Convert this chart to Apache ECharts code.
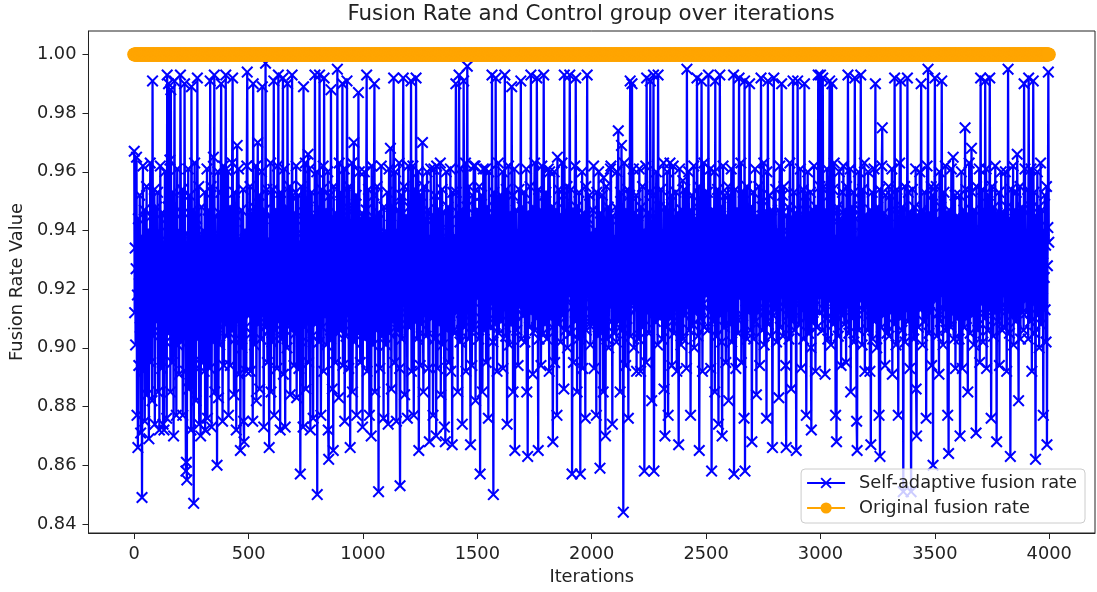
<!DOCTYPE html>
<html>
<head>
<meta charset="utf-8">
<script src="https://cdn.jsdelivr.net/npm/echarts@6/dist/echarts.min.js"></script>
<style>html,body{margin:0;padding:0;background:#fff}#c{width:1097px;height:592px}</style>
</head>
<body>
<div id="c"></div>
<script>
// Iteration spacing between the sampled points (iterations 0, 2, 4, ...)
const ITER_STEP = 2;
// Self-adaptive fusion rate, in thousandths (0.967 -> 967); one row = 100 iterations
const selfAdaptiveRate = [
967,912,934,901,927,965,877,918,866,944, 894,925,952,907,871,938,915,849,929,962, 892,921,947,875,910,936,903,955,884,924, 940,906,869,931,917,963,895,927,945,882, 991,914,937,904,954,874,922,939,909,948,
921,953,885,915,939,872,928,962,908,933, 893,946,919,874,936,872,911,960,926,902, 944,876,993,917,948,990,905,931,964,885, 988,920,938,895,913,953,870,929,991,907, 946,918,877,935,961,901,924,940,891,932,
914,993,937,902,926,954,877,919,946,907, 990,931,892,858,861,855,939,912,961,886, 928,952,905,921,872,989,936,915,947,894, 847,925,963,908,933,882,944,917,992,903, 929,955,874,922,938,870,911,948,895,927,
909,940,923,892,953,872,916,935,903,961, 876,927,947,910,932,893,991,921,955,873, 938,913,902,965,926,993,885,945,918,906, 936,860,929,960,883,915,946,901,925,953, 990,912,934,875,920,962,894,939,908,931,
993,926,904,944,917,960,877,932,911,948, 894,923,938,906,963,992,914,930,884,953, 919,903,936,872,945,969,909,928,961,891, 921,937,865,916,947,900,931,912,954,875, 868,925,940,907,934,892,962,994,918,929,
911,938,924,955,892,930,905,946,918,875, 990,927,948,901,934,913,962,882,921,939, 970,908,929,952,886,917,936,903,960,922, 989,911,944,873,926,947,907,997,932,915, 954,895,923,937,906,866,945,919,963,885,
936,902,927,954,913,991,877,940,921,906, 947,931,893,962,917,993,909,938,925,872, 953,903,934,919,945,992,891,928,961,910, 873,937,916,948,900,990,923,944,908,933, 955,884,920,939,906,993,914,952,927,894,
918,946,905,930,962,883,924,939,911,952, 893,928,936,857,915,955,902,933,920,873, 989,944,907,926,963,886,918,937,909,947, 966,895,929,961,913,872,935,921,953,904, 930,876,945,916,927,993,908,939,924,960,
850,931,914,948,902,993,926,940,877,919, 954,907,934,962,892,992,923,911,939,947, 901,928,917,960,872,862,935,912,952,903, 988,925,944,886,930,865,955,908,920,937, 895,946,916,927,995,905,938,883,963,921,
923,953,906,935,914,990,894,945,929,961, 875,919,938,904,926,991,948,911,933,893, 955,920,866,940,908,931,963,885,917,947, 970,902,928,939,912,952,877,923,936,905, 987,930,960,916,895,944,925,909,946,873,
912,938,927,960,903,931,919,947,993,892, 935,910,954,922,877,944,907,929,870,962, 915,937,901,924,952,990,885,918,940,906, 933,955,913,927,851,946,920,893,936,911, 962,925,904,939,917,876,948,930,908,934,
901,939,920,953,913,874,932,961,905,926, 968,945,886,918,937,909,948,992,923,895, 934,960,916,875,940,928,906,947,921,963, 893,853,930,912,952,903,925,938,992,915, 955,884,933,919,945,908,927,876,936,962,
928,948,907,933,919,991,892,940,912,962, 924,877,937,909,954,917,992,930,903,946, 921,960,865,914,935,894,952,926,908,939, 970,915,885,932,955,911,927,944,904,936, 960,918,947,893,923,868,938,913,961,929,
910,945,925,877,936,961,914,903,952,920, 870,962,931,893,947,918,908,939,926,963, 884,935,912,954,901,929,946,916,873,937, 868,924,960,906,933,919,948,895,927,940, 911,961,892,932,921,867,953,915,934,906,
905,938,921,990,953,912,930,885,946,918, 993,935,902,961,925,909,947,874,932,919, 991,940,907,928,963,892,921,948,996,914, 937,903,955,924,911,867,944,929,894,952, 916,933,962,906,927,962,882,939,920,947,
947,917,930,903,955,921,857,938,910,952, 925,885,935,961,914,906,940,928,961,895, 923,948,912,936,876,960,919,931,907,945, 926,915,993,934,902,850,953,920,939,908, 992,929,947,892,933,916,963,905,924,944,
922,952,909,937,918,960,893,932,944,913, 993,927,904,954,920,874,939,915,962,929, 901,946,917,935,908,989,924,952,885,938, 912,961,865,930,919,947,906,925,940,894, 933,954,914,921,937,991,903,929,948,911,
934,911,953,925,902,939,918,961,885,930, 863,946,916,936,907,955,922,993,912,940, 928,891,948,919,933,963,906,924,945,910, 992,937,920,865,954,903,931,915,947,894, 927,962,913,938,905,993,921,952,908,932,
953,920,903,936,914,961,928,892,960,944, 910,933,919,948,907,868,938,925,960,895, 931,913,947,921,877,965,937,908,954,926, 915,945,902,935,920,963,911,929,952,886, 993,924,939,906,932,917,955,900,927,946,
918,940,993,927,905,954,931,857,914,947, 895,936,921,962,909,992,929,948,885,938, 916,903,953,924,935,857,945,911,930,960, 893,926,946,912,937,920,876,955,906,933, 993,918,944,925,908,952,931,901,939,915,
931,908,947,921,962,893,936,915,940,926, 877,953,912,933,904,960,923,938,859,946, 917,929,906,952,934,885,958,920,911,944, 870,927,955,903,937,918,948,900,932,924, 914,961,962,909,935,874,945,919,928,905,
938,916,948,927,902,960,921,936,974,909, 944,925,885,953,918,969,932,906,940,844, 929,963,912,937,894,947,923,910,954,931, 876,939,917,952,991,904,926,945,990,915, 935,961,900,928,946,913,920,952,892,933,
914,945,929,903,961,920,937,892,948,911, 933,955,907,925,940,858,918,934,962,895, 992,928,946,912,936,905,921,953,991,924, 939,882,930,914,952,993,858,927,944,909, 935,960,917,926,901,993,938,922,948,910,
927,954,911,936,903,940,922,963,886,931, 870,948,916,938,907,960,925,877,945,919, 934,963,910,928,952,894,937,915,962,924, 905,944,930,913,953,920,892,935,946,909, 867,929,961,918,939,901,926,947,912,957,
903,936,920,954,911,931,945,893,995,925, 939,914,960,906,928,947,877,933,917,952, 923,908,938,962,900,927,944,912,935,919, 992,948,904,930,955,865,921,937,910,946, 991,926,892,940,915,963,907,932,953,918,
944,918,930,953,906,993,925,939,912,961, 893,934,858,947,921,909,937,928,960,885, 991,916,946,904,932,954,919,874,940,926, 993,911,948,936,902,870,929,962,915,938, 907,952,924,895,933,945,913,927,955,882,
924,952,908,937,919,961,902,930,946,914, 993,857,935,922,954,893,939,910,926,947, 905,933,992,917,944,928,963,895,920,936, 911,953,925,876,991,858,940,916,931,955, 903,927,947,912,938,990,921,906,948,932,
868,931,915,953,903,938,924,961,909,934, 884,945,920,936,912,955,926,894,940,917, 992,929,948,906,933,919,963,901,924,946, 913,937,876,960,922,991,908,932,952,916, 939,927,904,947,921,866,935,911,992,930,
935,913,954,921,902,940,929,916,947,883, 933,962,907,925,939,990,918,952,904,931, 955,914,927,936,894,866,945,920,911,948, 930,903,938,963,917,926,886,944,909,934, 991,922,953,906,929,946,915,865,937,920,
991,926,947,908,936,919,961,893,930,945, 913,925,954,903,934,990,917,952,922,877, 938,911,960,927,905,946,931,916,953,900, 872,935,921,947,909,928,962,914,939,892, 926,948,907,933,918,993,924,940,912,955,
993,940,918,932,906,992,927,955,913,937, 891,947,922,910,961,930,903,939,925,952, 991,916,934,901,945,990,920,954,908,931, 963,912,938,877,926,868,948,919,935,904, 929,960,914,944,923,894,936,911,953,927,
962,930,908,947,921,936,895,955,914,927, 993,940,905,933,918,961,885,938,925,948, 910,929,953,902,935,992,920,944,912,875, 865,937,924,960,906,931,947,916,993,927, 939,901,954,913,934,920,963,892,929,945,
945,919,933,906,960,925,911,938,892,947, 867,929,915,953,903,936,922,961,909,931, 990,917,940,900,927,948,913,934,877,954, 863,924,939,907,962,975,920,935,911,946, 926,894,952,918,932,905,944,928,914,955,
904,937,921,952,912,930,961,891,940,918, 933,908,992,925,947,901,929,954,915,936, 877,945,920,963,910,991,927,938,906,948, 917,851,934,923,955,902,931,913,940,926, 992,909,953,919,935,893,946,928,851,914,
925,954,911,937,903,948,928,916,961,886, 870,933,945,919,907,939,926,960,913,931, 990,920,947,901,936,923,909,953,930,915, 944,876,934,962,918,995,927,905,946,912, 938,921,955,894,929,952,860,932,917,940,
992,934,916,955,904,928,944,912,937,891, 960,922,909,948,927,991,918,939,901,932, 953,913,926,962,906,935,920,946,877,930, 864,947,915,938,924,907,961,929,912,940, 965,903,933,921,952,893,937,925,910,945,
919,944,928,903,952,870,935,912,960,924, 893,939,916,947,931,907,975,921,954,910, 936,926,885,945,915,963,930,905,939,920, 968,953,911,933,925,901,947,918,937,929, 871,955,914,934,906,940,922,961,895,927,
992,915,940,926,954,902,933,919,947,910, 991,929,961,893,937,921,906,952,913,935, 992,924,944,876,930,955,917,938,904,948, 927,912,962,920,936,868,946,909,931,916, 953,894,925,939,914,960,923,906,934,945,
946,918,931,907,960,924,938,892,948,913, 995,929,944,905,936,863,920,954,911,933, 926,962,901,939,917,947,930,909,953,922, 966,935,914,882,944,927,955,903,932,919, 948,912,938,925,906,990,934,961,916,929,
912,937,925,954,903,992,930,918,947,909, 961,923,892,939,915,991,934,953,905,927, 862,945,919,933,960,911,926,948,900,938, 921,963,908,931,947,917,929,877,940,924, 952,913,935,902,955,867,928,941,994,936
];
// Original (control) fusion rate: constant 1.00 over all iterations
const ORIGINAL_RATE = 1.0;
const xTickValues = [0, 500, 1000, 1500, 2000, 2500, 3000, 3500, 4000];
const yTickValues = [0.84, 0.86, 0.88, 0.90, 0.92, 0.94, 0.96, 0.98, 1.00];
const seriesNames = ['Self-adaptive fusion rate', 'Original fusion rate'];

const blueData = selfAdaptiveRate.map((v, i) => [i * ITER_STEP, v / 1000]);
const orangeData = selfAdaptiveRate.map((v, i) => [i * ITER_STEP, ORIGINAL_RATE]);

const X_MARK = 'path://M0,1.2L1.2,0L5,3.8L8.8,0L10,1.2L6.2,5L10,8.8L8.8,10L5,6.2L1.2,10L0,8.8L3.8,5Z';
const FONT = 'DejaVu Sans';
const TXT = '#222';

const chart = echarts.init(document.getElementById('c'), null, {renderer: 'canvas'});
chart.setOption({
  animation: false,
  backgroundColor: '#fff',
  graphic: [{
    type: 'text', x: 591, y: 14, silent: true,
    style: {text: 'Fusion Rate and Control group over iterations', fill: TXT,
      font: '21.4px "DejaVu Sans"', textAlign: 'center', textVerticalAlign: 'middle'}
  }],
  grid: {left: 88, right: 2, top: 31, bottom: 59, show: true, borderColor: '#222', borderWidth: 1, backgroundColor: 'transparent'},
  legend: {
    orient: 'vertical', right: 12, bottom: 69,
    data: seriesNames,
    itemWidth: 38, itemHeight: 14, itemGap: 7,
    padding: [5, 8, 6, 5],
    backgroundColor: 'rgba(255,255,255,0.8)', borderColor: '#cccccc', borderWidth: 1, borderRadius: 4,
    textStyle: {fontFamily: FONT, fontSize: 17.8, color: TXT, padding: [0, 0, 0, 9]},
    selectedMode: false
  },
  xAxis: {
    type: 'value', min: -200, max: 4200,
    axisLine: {show: true, onZero: false, lineStyle: {color: '#222', width: 1}},
    axisTick: {show: true, length: 6, customValues: xTickValues, lineStyle: {color: '#222'}},
    axisLabel: {customValues: xTickValues, fontFamily: FONT, fontSize: 17.8, color: TXT, margin: 12,
      formatter: v => String(v)},
    splitLine: {show: false},
    name: 'Iterations', nameLocation: 'middle', nameGap: 34,
    nameTextStyle: {fontFamily: FONT, fontSize: 17.8, color: TXT}
  },
  yAxis: {
    type: 'value', min: 0.8369, max: 1.008,
    axisLine: {show: true, onZero: false, lineStyle: {color: '#222', width: 1}},
    axisTick: {show: true, length: 6, customValues: yTickValues, lineStyle: {color: '#222'}},
    axisLabel: {customValues: yTickValues, fontFamily: FONT, fontSize: 17.8, color: TXT, margin: 12,
      formatter: v => v.toFixed(2)},
    splitLine: {show: false},
    name: 'Fusion Rate Value', nameLocation: 'middle', nameGap: 60,
    nameTextStyle: {fontFamily: FONT, fontSize: 17.8, color: TXT}
  },
  series: [{
    name: seriesNames[0], type: 'line', data: blueData,
    symbol: X_MARK, symbolSize: 12, showSymbol: true, showAllSymbol: true,
    lineStyle: {color: '#0000ff', width: 2.3}, itemStyle: {color: '#0000ff'},
    silent: true, emphasis: {disabled: true}, z: 2
  }, {
    name: seriesNames[1], type: 'line', data: orangeData,
    symbol: 'circle', symbolSize: 14, showSymbol: true, showAllSymbol: true,
    lineStyle: {color: '#ffa500', width: 2.3}, itemStyle: {color: '#ffa500'},
    silent: true, emphasis: {disabled: true}, z: 3
  }]
});
</script>
</body>
</html>
